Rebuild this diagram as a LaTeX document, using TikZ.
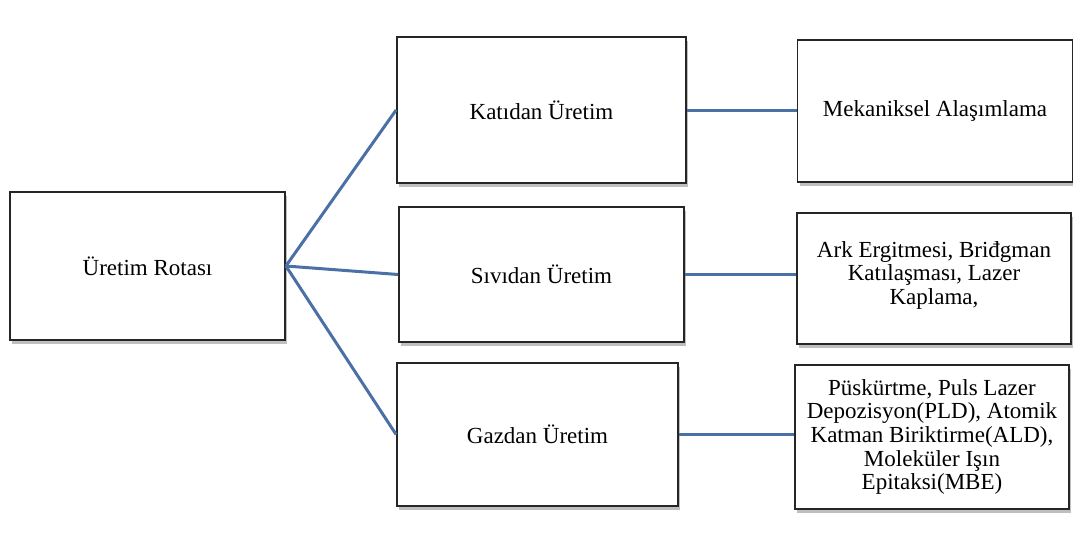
\documentclass[tikz,border=0pt]{standalone}
\usepackage{fontspec}
\setmainfont{Liberation Serif}
\usetikzlibrary{shadows}

\definecolor{hatmavi}{RGB}{74,112,166}

\begin{document}
\begin{tikzpicture}[x=0.5pt, y=-0.5pt,
    kutu/.style={draw=black!85, line width=0.9pt, fill=white, inner sep=2pt,
      align=center, font=\fontsize{11.5}{11.8}\selectfont,
      drop shadow={fill=black!50, opacity=0.5, shadow xshift=1.2pt, shadow yshift=-1.8pt}},
    bag/.style={draw=hatmavi, line width=1.5pt}]

    \useasboundingbox (0, 0) rectangle (1073, 547);

    \node [kutu, minimum width=137.5pt, minimum height=74pt] (rota) at (147.5, 266) {Üretim Rotası};

    \node [kutu, minimum width=144.5pt, minimum height=73pt] (kati) at (541.5, 110) {Katıdan Üretim};

    \node [kutu, minimum width=142.5pt, minimum height=67.5pt] (sivi) at (541.5, 274.5) {Sıvıdan Üretim};

    \node [kutu, minimum width=140.5pt, minimum height=71.5pt] (gaz) at (537.5, 434.5) {Gazdan Üretim};


    \node [kutu, minimum width=137.5pt, minimum height=71pt] (mekanik) at (935, 111) {Mekaniksel Alaşımlama};

    \node [kutu, minimum width=137pt, minimum height=65.5pt] (ark) at (934, 278.5)
    {Ark Ergitmesi, Briđgman\\Katılaşması, Lazer\\Kaplama,\\[-6pt]\mbox{}};

    \node [kutu, minimum width=137pt, minimum height=72pt] (puls) at (932, 437)
    {Püskürtme, Puls Lazer\\Depozisyon(PLD), Atomik\\Katman Biriktirme(ALD),\\Moleküler Işın\\Epitaksi(MBE)};


    \draw [bag] (rota.east) -- (kati.west);

    \draw [bag] (rota.east) -- (sivi.west);

    \draw [bag] (rota.east) -- (gaz.west);

    \draw [bag] (kati.east) -- (kati.east -| mekanik.west);

    \draw [bag] (sivi.east) -- (sivi.east -| ark.west);

    \draw [bag] (gaz.east) -- (gaz.east -| puls.west);

  \end{tikzpicture}
\end{document}
